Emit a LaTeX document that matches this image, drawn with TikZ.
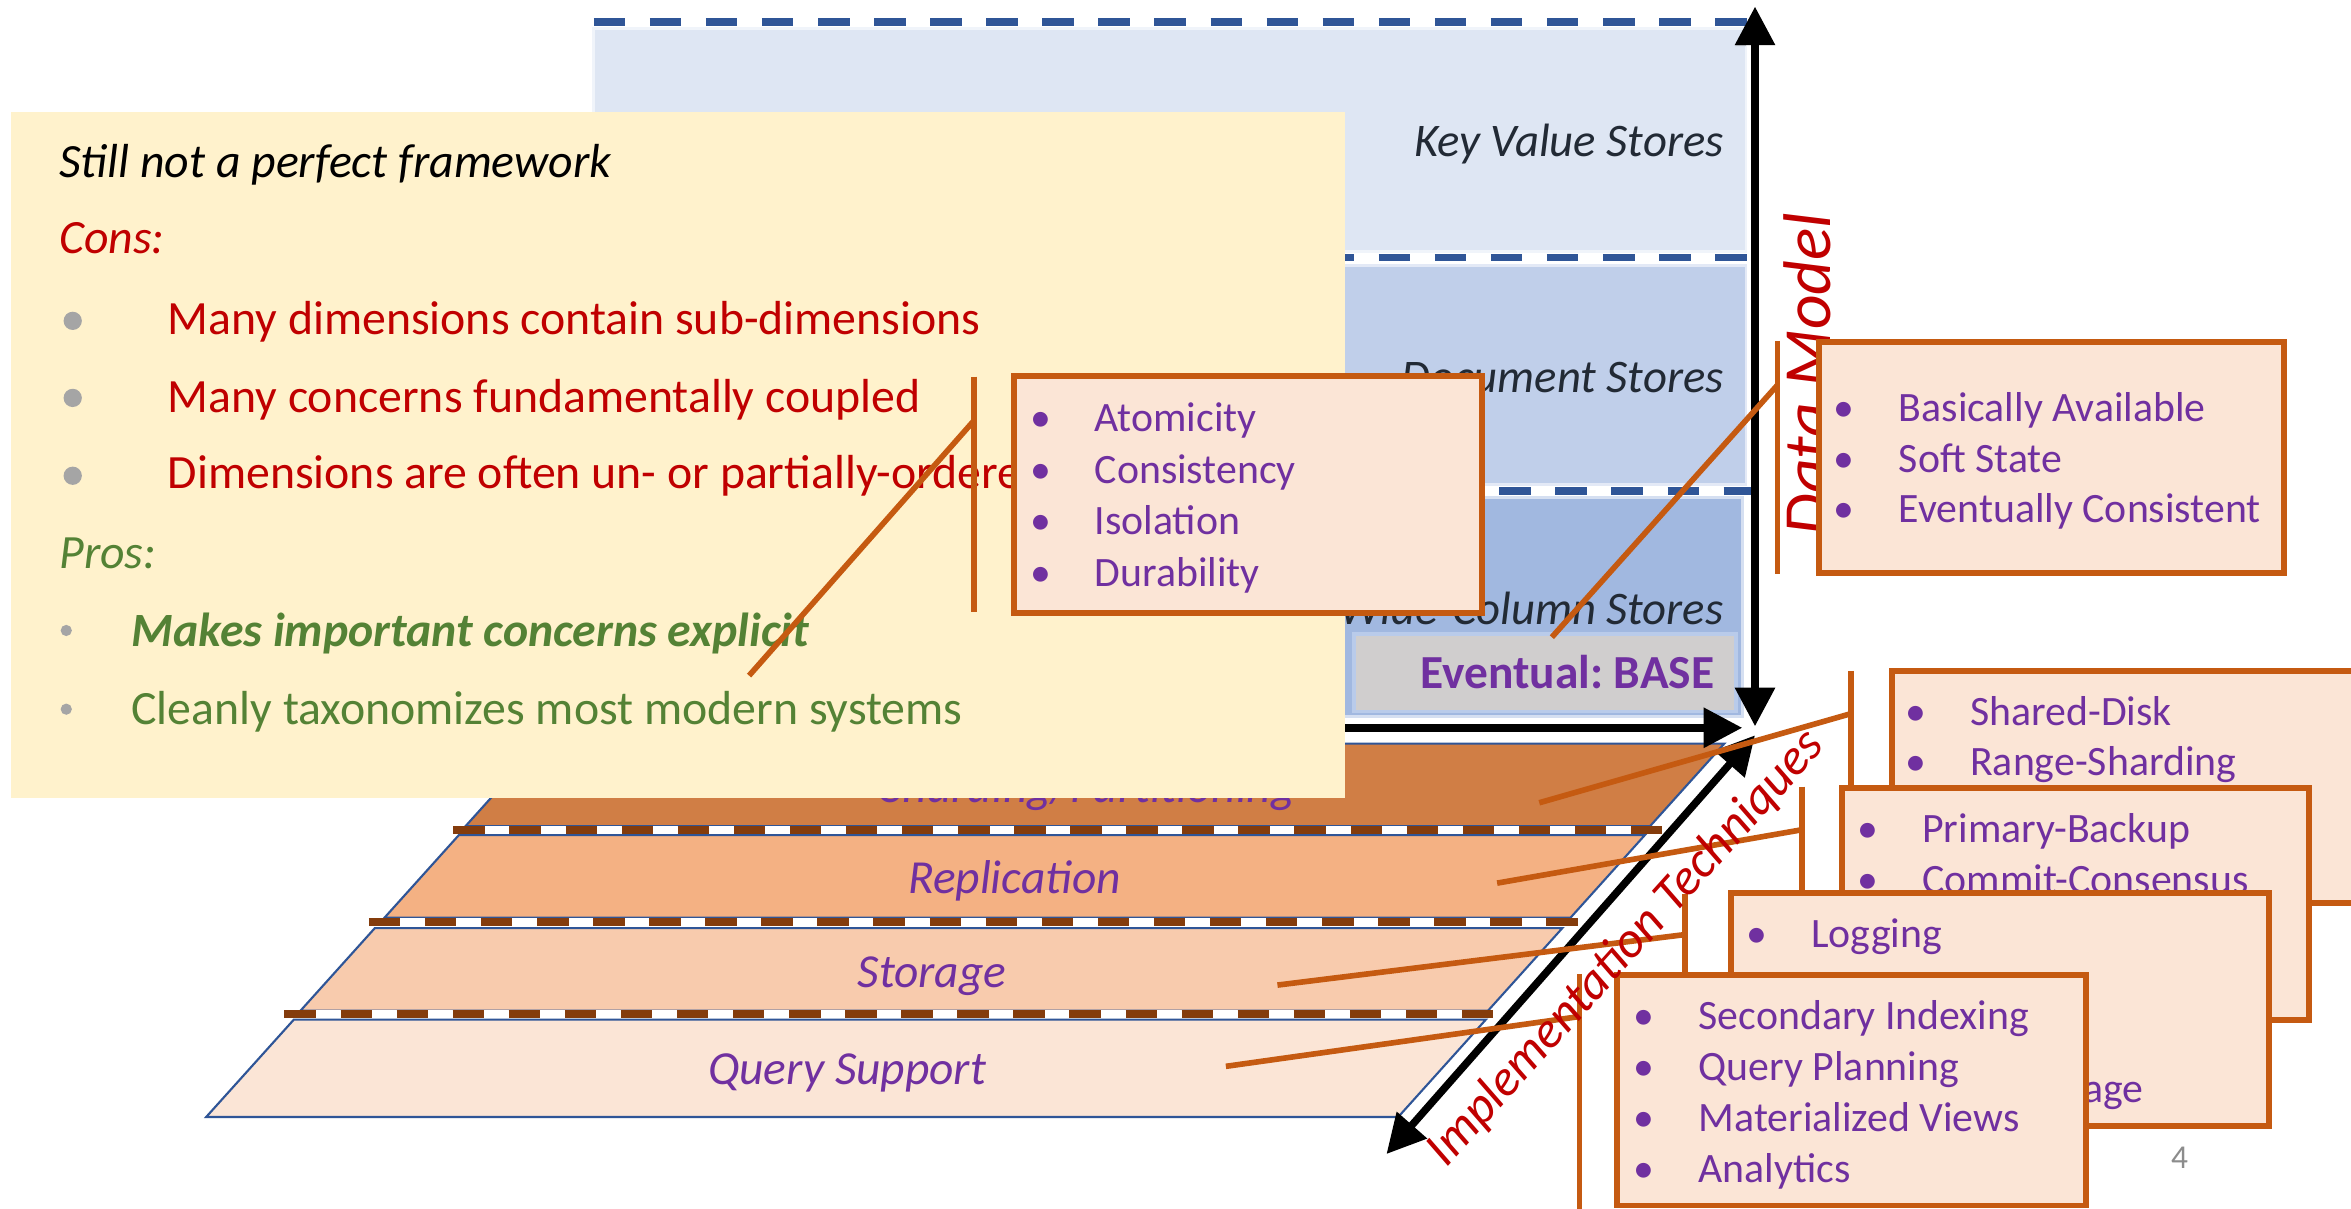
\documentclass[tikz,border=0pt]{standalone}
\usepackage{fontspec}
\setmainfont{Carlito}
\usetikzlibrary{arrows.meta}
\frenchspacing

\definecolor{kvfill}{HTML}{DEE6F3}
\definecolor{docfill}{HTML}{C0CFEA}
\definecolor{widefill}{HTML}{A1B8E0}
\definecolor{dashblue}{HTML}{2F5597}
\definecolor{storetext}{HTML}{222A35}
\definecolor{basegray}{HTML}{D0CECE}
\definecolor{baseedge}{HTML}{B9CBEA}
\definecolor{cornergray}{HTML}{BEC3CB}
\definecolor{purp}{HTML}{7030A0}
\definecolor{shardfill}{HTML}{D07E45}
\definecolor{replfill}{HTML}{F4B183}
\definecolor{storfill}{HTML}{F8CBAD}
\definecolor{queryfill}{HTML}{FBE5D6}
\definecolor{sepbrown}{HTML}{843C0C}
\definecolor{calloutline}{HTML}{C55A11}
\definecolor{calloutfill}{HTML}{FBE5D6}
\definecolor{notefill}{HTML}{FFF2CC}
\definecolor{consred}{HTML}{C00000}
\definecolor{prosgreen}{HTML}{548235}
\definecolor{bulletgray}{HTML}{A5A5A5}
\definecolor{pagegray}{HTML}{8C8C8C}

\tikzset{
  band/.style={fill=#1, draw=white!55!#1, line width=0.8pt},
  bluedash/.style={draw=dashblue, line width=2.1pt, dash pattern=on 8.96pt off 7pt},
  storelabel/.style={anchor=base east, inner sep=0pt, text=storetext, font=\fontsize{13.3}{16}\selectfont\itshape},
  slab/.style={fill=#1, draw=dashblue, line width=0.6pt},
  slablabel/.style={anchor=base, inner sep=0pt, text=purp, font=\fontsize{13.5}{16}\selectfont\itshape},
  slabsep/.style={draw=sepbrown, line width=2.26pt, dash pattern=on 8.96pt off 7pt,
    preaction={draw=white, solid, line width=2.26pt}},
  axisline/.style={draw=black, line width=2.13pt},
  notetext/.style={anchor=base west, inner sep=0pt, font=\fontsize{13.6}{16}\selectfont},
  callout/.style={draw=calloutline, fill=calloutfill, line width=1.7pt},
  leader/.style={draw=calloutline, line width=1.6pt},
  itemdot/.style={anchor=base, inner sep=0pt, text=purp, font=\fontsize{11.9}{14}\selectfont},
  itemtext/.style={anchor=base west, inner sep=0pt, text=purp, font=\fontsize{11.9}{14}\selectfont},
  axislabel/.style={anchor=base west, inner sep=0pt, text=consred},
}

\begin{document}
\begin{tikzpicture}[x=0.015cm, y=-0.015cm, >={Triangle[length=11pt,width=11pt]}]
\useasboundingbox (0,0) rectangle (1568,806);
\clip (0,0) rectangle (1568,806);
\fill[white] (0,0) rectangle (1568,806);

% ---------- data model stack ----------
\path[band=kvfill]   (396,19)  rectangle (1164.5,168);
\path[band=docfill]  (396,177) rectangle (1164.5,323.3);
\path[band=widefill] (396,332) rectangle (1162,477.8);
\fill[cornergray] (1157.3,30.7) -- (1164.4,30.7) -- (1164.4,20) -- cycle;
\draw[bluedash] (396,14.7) -- (1165,14.7);
\draw[bluedash] (396,171.7) -- (1166.7,171.7);
\draw[bluedash] (401.6,327.4) -- (1170.6,327.4);

\node[storelabel] (kv)   at (1150,104.7) {Key Value Stores};
\node[storelabel] (doc)  at (1150,261.8) {Document Stores};
\node[storelabel] (wide) at (1150,416.7) {Wide-Column Stores};

\path[fill=basegray, draw=baseedge, line width=1pt] (903,422.7) rectangle (1157.8,474.4);
\node[anchor=base east, inner sep=0pt, text=purp, font=\fontsize{13.5}{16}\selectfont\bfseries] (eventual) at (1143.8,458.9) {Eventual: BASE};

% ---------- implementation layers ----------
\path[slab=shardfill] (360,496) -- (1150,496) -- (1100.5,551) -- (310.5,551) -- cycle;
\path[slab=replfill]  (306,557) -- (1097,557) -- (1047.5,612) -- (256.5,612) -- cycle;
\path[slab=storfill]  (250,619) -- (1042,619) -- (992.5,674) -- (200.5,674) -- cycle;
\path[slab=queryfill] (196,680) -- (991,680) -- (932.5,745) -- (137.5,745) -- cycle;

\draw[slabsep] (302.4,553.6) -- (1108.8,553.6);
\draw[slabsep] (246,615.2) -- (1052.4,615.2);
\draw[slabsep] (189.7,676.6) -- (996.1,676.6);

\node[slablabel] (shard)   at (726,535)     {Sharding/Partitioning};
\node[slablabel] (repl)    at (676.6,595.7) {Replication};
\node[slablabel] (storage) at (621.6,658.3) {Storage};
\node[slablabel] (query)   at (565,723.6)   {Query Support};

% ---------- axes ----------
\coordinate (hstart) at (396,485.4);
\coordinate (htip)   at (1162,485.4);
\coordinate (vlow)   at (1170.5,484.4);
\coordinate (vtop)   at (1170.5,4.4);
\coordinate (dlow)   at (924.7,769.7);
\coordinate (dtop)   at (1170.5,490.4);
\draw[axisline, ->]  (hstart) -- (htip);
\draw[axisline, <->] (vlow) -- (vtop);
\draw[axisline, <->] (dlow) -- (dtop);

% ---------- pros / cons note ----------
\fill[notefill] (7.2,74.7) rectangle (897,532.5);
\node[notetext, font=\fontsize{13.6}{16}\selectfont\itshape] (title) at (39.1,118.7) {Still not a perfect framework};
\node[notetext, text=consred, font=\fontsize{13.6}{16}\selectfont\itshape] (cons) at (39.1,169.4) {Cons:};
\fill[bulletgray] (48.5,214) circle[radius=2.6pt];
\fill[bulletgray] (48.5,265.4) circle[radius=2.6pt];
\fill[bulletgray] (48.5,317.3) circle[radius=2.6pt];
\node[notetext, text=consred] (con1) at (111.4,223)   {Many dimensions contain sub-dimensions};
\node[notetext, text=consred] (con2) at (111.4,275)   {Many concerns fundamentally coupled};
\node[notetext, text=consred] (con3) at (111.4,325.6) {Dimensions are often un- or partially-ordered};
\node[notetext, text=prosgreen, font=\fontsize{13.6}{16}\selectfont\itshape] (pros) at (39.1,379.2) {Pros:};
\fill[bulletgray] (44.2,420.5) circle[radius=1.6pt];
\fill[bulletgray] (44.2,473) circle[radius=1.6pt];
\node[notetext, text=prosgreen, font=\fontsize{13.6}{16}\selectfont\bfseries\itshape] (pro1) at (87.2,431.3) {Makes important concerns explicit};
\node[notetext, text=prosgreen] (pro2) at (87.2,483.3) {Cleanly taxonomizes most modern systems};

% ---------- ACID callout ----------
\coordinate (acidB1) at (649.7,251.2);
\coordinate (acidB2) at (649.7,408.3);
\coordinate (acidJ)  at (649.7,280.4);
\coordinate (acidP)  at (499.6,450.6);
\draw[leader] (acidB1) -- (acidB2);
\draw[leader] (acidJ) -- (acidP);
\path[callout] (676,250.7) rectangle (988.5,408.7);
\node[itemdot] (acidd1) at (694,288)   {\textbullet};
\node[itemdot] (acidd2) at (694,322.3) {\textbullet};
\node[itemdot] (acidd3) at (694,356.6) {\textbullet};
\node[itemdot] (acidd4) at (694,390.9) {\textbullet};
\node[itemtext] (acid1) at (729.7,288)   {Atomicity};
\node[itemtext] (acid2) at (729.7,322.3) {Consistency};
\node[itemtext] (acid3) at (729.7,356.6) {Isolation};
\node[itemtext] (acid4) at (729.7,390.9) {Durability};

% ---------- data model axis label and BASE callout ----------
\node[axislabel, rotate=90, font=\fontsize{19.2}{22}\selectfont\itshape] (dmlabel) at (1221,357.5) {Data Model};
\coordinate (baseB1) at (1185.6,227.3);
\coordinate (baseB2) at (1185.6,383.1);
\coordinate (baseJ)  at (1185.6,256.7);
\coordinate (baseP)  at (1035,425);
\draw[leader] (baseB1) -- (baseB2);
\draw[leader] (baseJ) -- (baseP);
\path[callout] (1213,228) rectangle (1523.5,382);
\node[itemdot] (based1) at (1229.6,281.2) {\textbullet};
\node[itemdot] (based2) at (1229.6,315)   {\textbullet};
\node[itemdot] (based3) at (1229.6,348.7) {\textbullet};
\node[itemtext] (base1) at (1266,281.2) {Basically Available};
\node[itemtext] (base2) at (1266,315)   {Soft State};
\node[itemtext] (base3) at (1266,348.7) {Eventually Consistent};

% ---------- technique callouts ----------
% sharding
\coordinate (shB1) at (1234.4,447.5);
\coordinate (shB2) at (1234.4,604);
\coordinate (shJ)  at (1234.4,476);
\coordinate (shP)  at (1026.6,535.4);
\draw[leader] (shB1) -- (shB2);
\draw[leader] (shP) -- (shJ);
\path[callout] (1262,447.7) rectangle (1610,602.4);
\node[itemdot] (shd1) at (1277.8,483.7) {\textbullet};
\node[itemdot] (shd2) at (1277.8,517)   {\textbullet};
\node[itemtext] (sh1) at (1313.6,483.7) {Shared-Disk};
\node[itemtext] (sh2) at (1313.6,517)   {Range-Sharding};

% replication
\coordinate (rpB1) at (1201.8,524.7);
\coordinate (rpB2) at (1201.8,682);
\coordinate (rpJ)  at (1201.8,553.4);
\coordinate (rpP)  at (998.5,589);
\draw[leader] (rpB1) -- (rpB2);
\draw[leader] (rpP) -- (rpJ);
\path[callout] (1228.3,525.7) rectangle (1540,680.6);
\node[itemdot] (rpd1) at (1245.6,561.7) {\textbullet};
\node[itemdot] (rpd2) at (1245.6,595.7) {\textbullet};
\node[itemtext] (rp1) at (1281.6,561.7) {Primary-Backup};
\node[itemtext] (rp2) at (1281.6,595.7) {Commit-Consensus};

% storage
\coordinate (stB1) at (1124,596);
\coordinate (stB2) at (1124,752);
\coordinate (stJ)  at (1124,623.3);
\coordinate (stP)  at (852,657);
\draw[leader] (stB1) -- (stB2);
\draw[leader] (stP) -- (stJ);
\path[callout] (1154.6,595.7) rectangle (1513.6,751);
\node[itemdot] (std1) at (1171.9,631.8) {\textbullet};
\node[itemtext] (st1) at (1207.6,631.8) {Logging};
\node[itemtext, anchor=base east] (st4) at (1430,735) {age};

% query support
\coordinate (qsB1) at (1053.4,649.6);
\coordinate (qsB2) at (1053.4,812);
\coordinate (qsJ)  at (1053.4,678);
\coordinate (qsP)  at (817.6,711.2);
\draw[leader] (qsB1) -- (qsB2);
\draw[leader] (qsP) -- (qsJ);
\path[callout] (1078.7,650.4) rectangle (1391.2,804);
\node[itemdot] (qsd1) at (1096.7,686.5) {\textbullet};
\node[itemdot] (qsd2) at (1096.7,720.5) {\textbullet};
\node[itemdot] (qsd3) at (1096.7,754.5) {\textbullet};
\node[itemdot] (qsd4) at (1096.7,788.5) {\textbullet};
\node[itemtext] (qs1) at (1132.5,686.5) {Secondary Indexing};
\node[itemtext] (qs2) at (1132.5,720.5) {Query Planning};
\node[itemtext] (qs3) at (1132.5,754.5) {Materialized Views};
\node[itemtext] (qs4) at (1132.5,788.5) {Analytics};

% ---------- implementation axis label, page number ----------
\node[axislabel, rotate=48, font=\fontsize{14.5}{18}\selectfont\itshape] (itlabel) at (964.5,779.5) {Implementation Techniques};
\node[anchor=base, inner sep=0pt, text=pagegray, font=\fontsize{9.5}{11}\selectfont] (pagenum) at (1453.7,779) {4};
\end{tikzpicture}
\end{document}
